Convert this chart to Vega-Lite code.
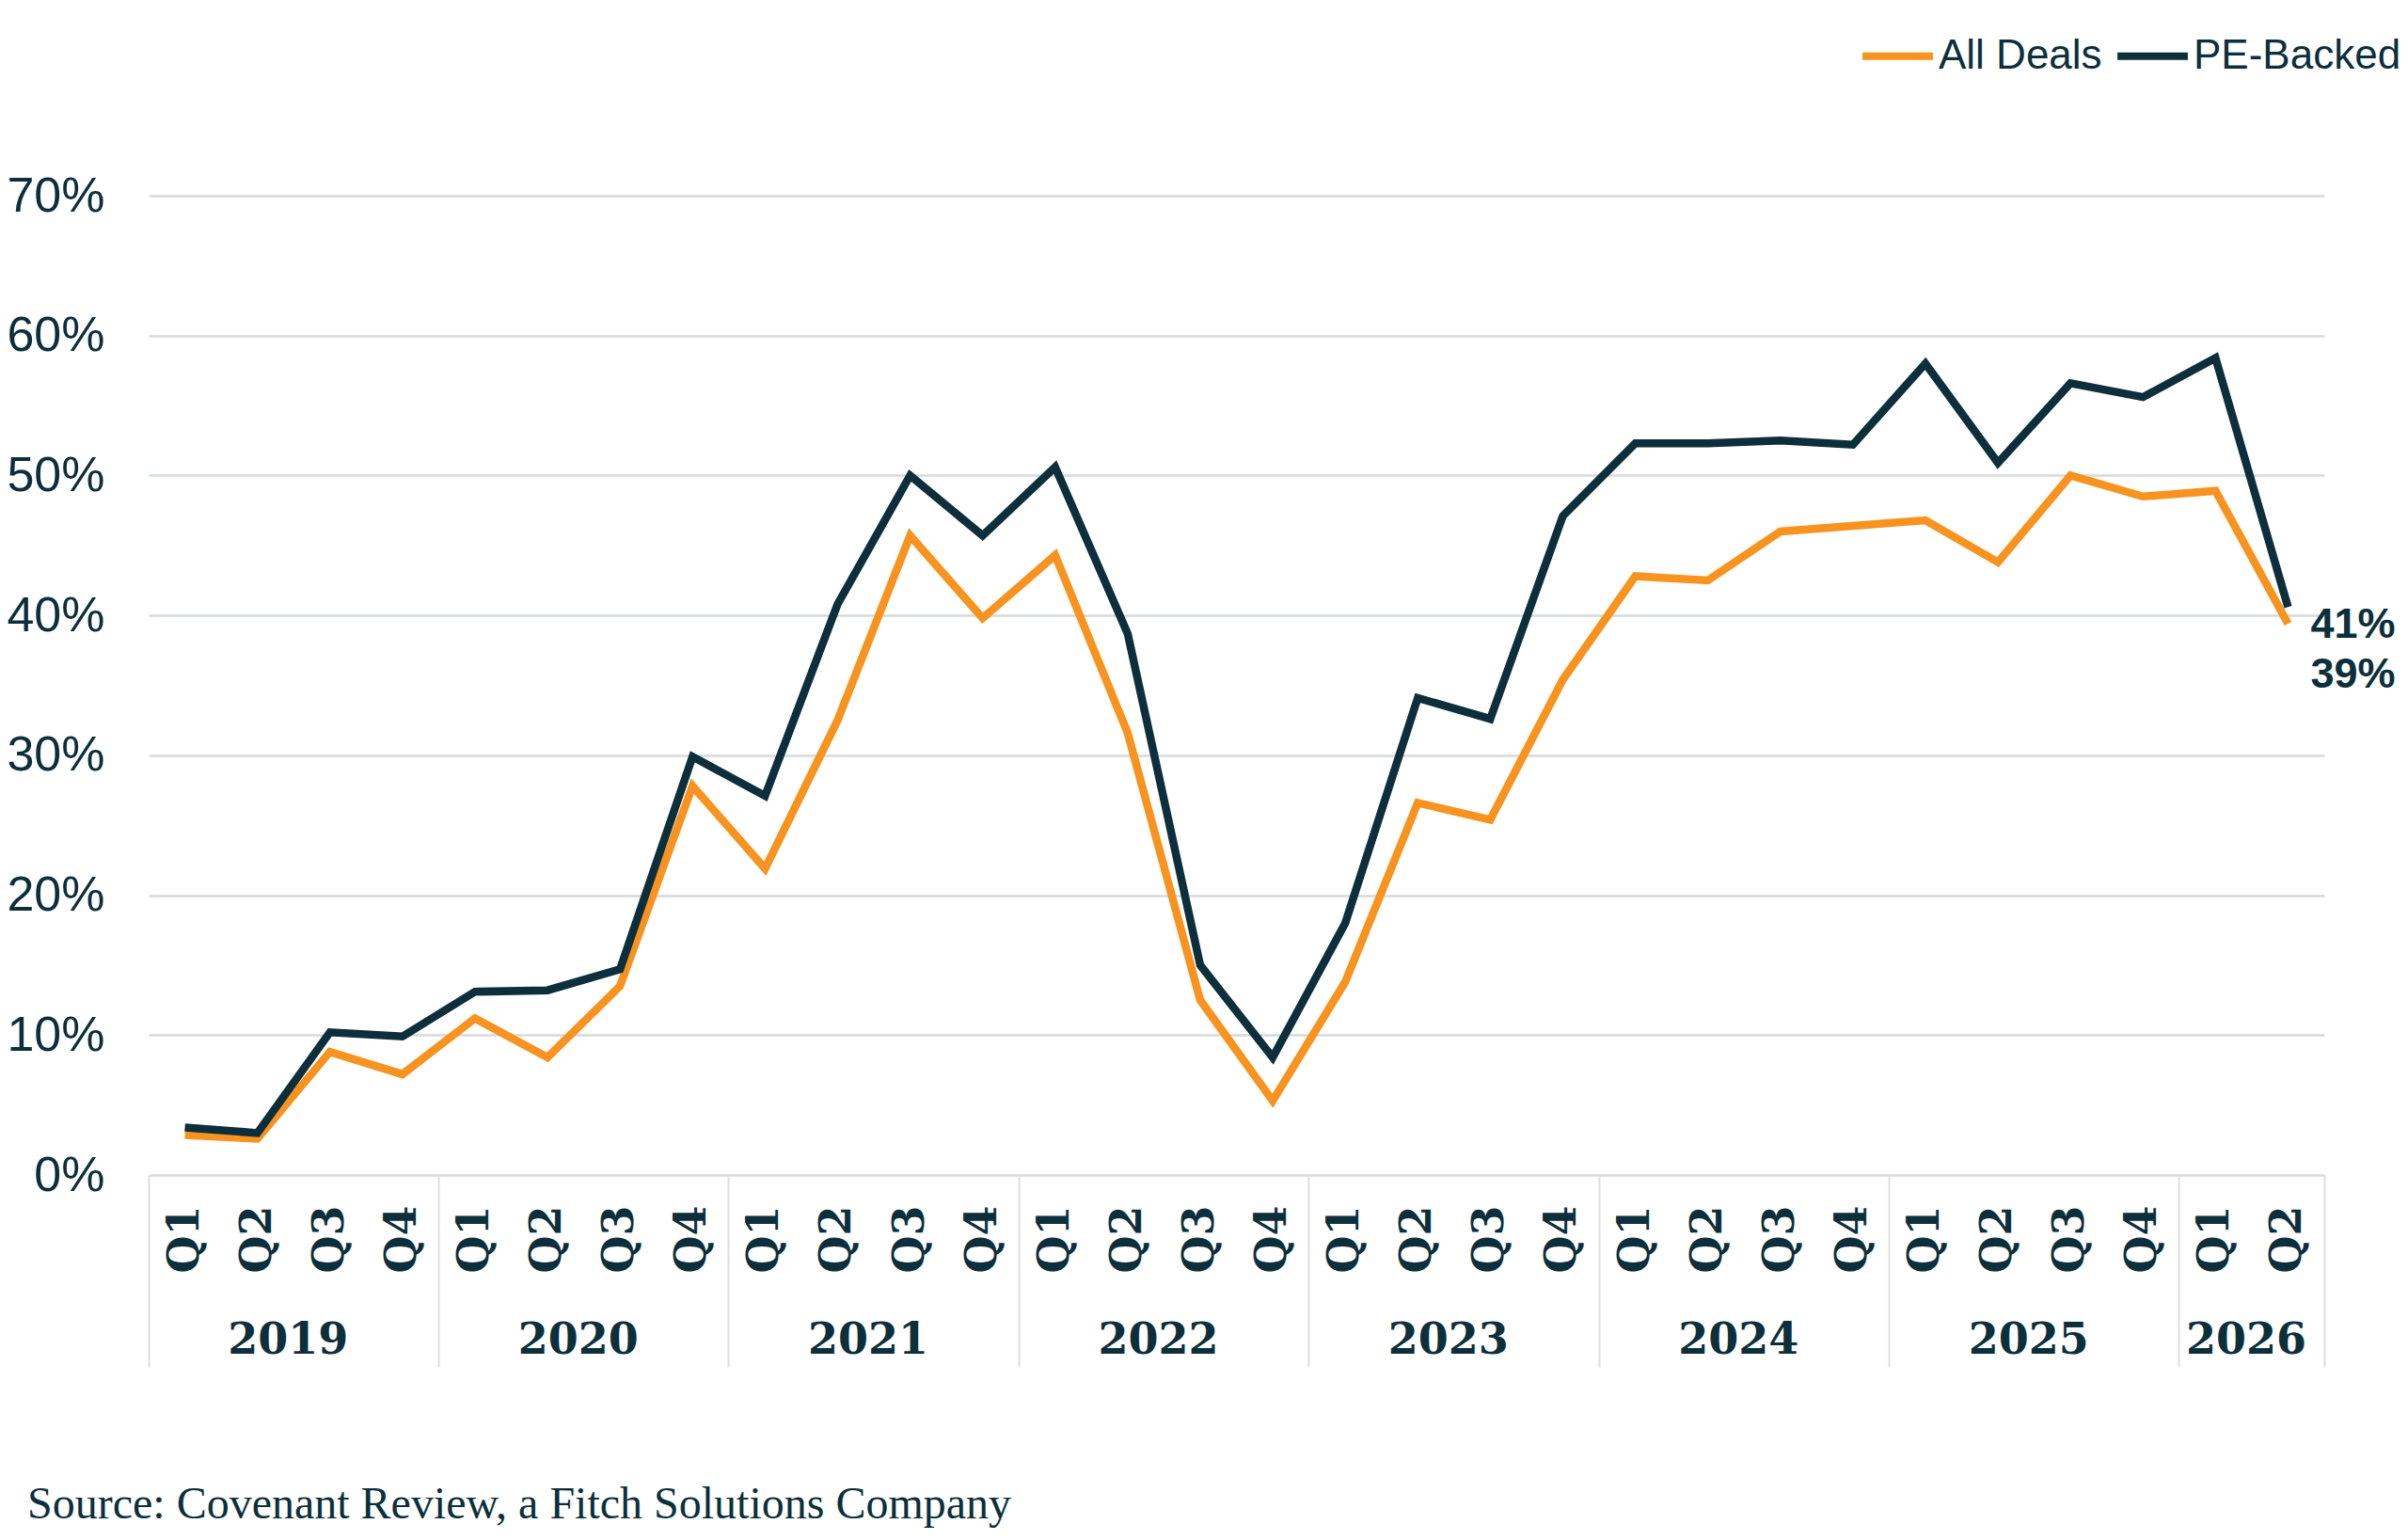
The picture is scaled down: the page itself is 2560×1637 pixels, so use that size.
{
  "$schema": "https://vega.github.io/schema/vega-lite/v6.json",
  "width": 2313,
  "height": 1041,
  "autosize": "none",
  "padding": {"left": 158, "top": 208, "right": 89, "bottom": 388},
  "background": "white",
  "config": {
    "view": {"stroke": "transparent"},
    "axis": {"labelColor": "#0c2f3b", "title": null},
    "legend": {"labelFont": "Liberation Sans", "labelColor": "#0c2f3b"}
  },
  "title": {
    "text": "Source: Covenant Review, a Fitch Solutions Company",
    "orient": "bottom",
    "anchor": "start",
    "frame": "group",
    "dx": -129,
    "offset": 122,
    "font": "Liberation Serif",
    "fontSize": 48,
    "fontWeight": "normal",
    "color": "#0c2f3b"
  },
  "data": {
    "values": [
      {"period": "2019 Q1", "series": "All Deals", "value": 0.0285},
      {"period": "2019 Q2", "series": "All Deals", "value": 0.026},
      {"period": "2019 Q3", "series": "All Deals", "value": 0.088},
      {"period": "2019 Q4", "series": "All Deals", "value": 0.072},
      {"period": "2020 Q1", "series": "All Deals", "value": 0.112},
      {"period": "2020 Q2", "series": "All Deals", "value": 0.084},
      {"period": "2020 Q3", "series": "All Deals", "value": 0.135},
      {"period": "2020 Q4", "series": "All Deals", "value": 0.278},
      {"period": "2021 Q1", "series": "All Deals", "value": 0.219},
      {"period": "2021 Q2", "series": "All Deals", "value": 0.325},
      {"period": "2021 Q3", "series": "All Deals", "value": 0.457},
      {"period": "2021 Q4", "series": "All Deals", "value": 0.398},
      {"period": "2022 Q1", "series": "All Deals", "value": 0.443},
      {"period": "2022 Q2", "series": "All Deals", "value": 0.316},
      {"period": "2022 Q3", "series": "All Deals", "value": 0.125},
      {"period": "2022 Q4", "series": "All Deals", "value": 0.053},
      {"period": "2023 Q1", "series": "All Deals", "value": 0.138},
      {"period": "2023 Q2", "series": "All Deals", "value": 0.266},
      {"period": "2023 Q3", "series": "All Deals", "value": 0.254},
      {"period": "2023 Q4", "series": "All Deals", "value": 0.354},
      {"period": "2024 Q1", "series": "All Deals", "value": 0.428},
      {"period": "2024 Q2", "series": "All Deals", "value": 0.425},
      {"period": "2024 Q3", "series": "All Deals", "value": 0.46},
      {"period": "2024 Q4", "series": "All Deals", "value": 0.464},
      {"period": "2025 Q1", "series": "All Deals", "value": 0.468},
      {"period": "2025 Q2", "series": "All Deals", "value": 0.438},
      {"period": "2025 Q3", "series": "All Deals", "value": 0.5},
      {"period": "2025 Q4", "series": "All Deals", "value": 0.485},
      {"period": "2026 Q1", "series": "All Deals", "value": 0.489},
      {"period": "2026 Q2", "series": "All Deals", "value": 0.394},
      {"period": "2019 Q1", "series": "PE-Backed", "value": 0.034},
      {"period": "2019 Q2", "series": "PE-Backed", "value": 0.03},
      {"period": "2019 Q3", "series": "PE-Backed", "value": 0.102},
      {"period": "2019 Q4", "series": "PE-Backed", "value": 0.099},
      {"period": "2020 Q1", "series": "PE-Backed", "value": 0.131},
      {"period": "2020 Q2", "series": "PE-Backed", "value": 0.132},
      {"period": "2020 Q3", "series": "PE-Backed", "value": 0.147},
      {"period": "2020 Q4", "series": "PE-Backed", "value": 0.299},
      {"period": "2021 Q1", "series": "PE-Backed", "value": 0.271},
      {"period": "2021 Q2", "series": "PE-Backed", "value": 0.408},
      {"period": "2021 Q3", "series": "PE-Backed", "value": 0.5},
      {"period": "2021 Q4", "series": "PE-Backed", "value": 0.457},
      {"period": "2022 Q1", "series": "PE-Backed", "value": 0.506},
      {"period": "2022 Q2", "series": "PE-Backed", "value": 0.387},
      {"period": "2022 Q3", "series": "PE-Backed", "value": 0.15},
      {"period": "2022 Q4", "series": "PE-Backed", "value": 0.084},
      {"period": "2023 Q1", "series": "PE-Backed", "value": 0.18},
      {"period": "2023 Q2", "series": "PE-Backed", "value": 0.341},
      {"period": "2023 Q3", "series": "PE-Backed", "value": 0.326},
      {"period": "2023 Q4", "series": "PE-Backed", "value": 0.471},
      {"period": "2024 Q1", "series": "PE-Backed", "value": 0.523},
      {"period": "2024 Q2", "series": "PE-Backed", "value": 0.523},
      {"period": "2024 Q3", "series": "PE-Backed", "value": 0.525},
      {"period": "2024 Q4", "series": "PE-Backed", "value": 0.522},
      {"period": "2025 Q1", "series": "PE-Backed", "value": 0.58},
      {"period": "2025 Q2", "series": "PE-Backed", "value": 0.509},
      {"period": "2025 Q3", "series": "PE-Backed", "value": 0.566},
      {"period": "2025 Q4", "series": "PE-Backed", "value": 0.556},
      {"period": "2026 Q1", "series": "PE-Backed", "value": 0.584},
      {"period": "2026 Q2", "series": "PE-Backed", "value": 0.406}
    ]
  },
  "encoding": {
    "y": {
      "field": "value",
      "type": "quantitative",
      "scale": {"domain": [0, 0.7], "nice": false, "zero": true},
      "axis": {
        "values": [0, 0.1, 0.2, 0.3, 0.4, 0.5, 0.6, 0.7],
        "format": ".0%",
        "domain": false,
        "ticks": false,
        "grid": true,
        "gridColor": "#d6dadd",
        "gridWidth": 2.5,
        "labelFont": "Liberation Sans",
        "labelFontSize": 52,
        "labelPadding": 47
      }
    }
  },
  "layer": [
    {
      "mark": {"type": "line", "strokeWidth": 8.5},
      "encoding": {
        "x": {
          "field": "period",
          "type": "ordinal",
          "scale": {"type": "band", "paddingInner": 0, "paddingOuter": 0},
          "axis": {
            "orient": "bottom",
            "labelExpr": "substring(datum.label, 5)",
            "labelAngle": -90,
            "labelFont": "DejaVu Serif",
            "labelFontWeight": "bold",
            "labelFontSize": 46,
            "labelPadding": 32,
            "labelOverlap": false,
            "domain": false,
            "grid": false,
            "ticks": false
          }
        },
        "color": {
          "field": "series",
          "type": "nominal",
          "scale": {"domain": ["All Deals", "PE-Backed"], "range": ["#f7931e", "#0c2f3b"]},
          "legend": {
            "orient": "none",
            "direction": "horizontal",
            "legendX": 1818,
            "legendY": -190,
            "title": null,
            "symbolType": "stroke",
            "symbolSize": 5600,
            "symbolStrokeWidth": 8,
            "labelFontSize": 44,
            "labelLimit": 0,
            "labelOffset": 2,
            "columnPadding": 0,
            "padding": 0
          }
        }
      }
    },
    {
      "transform": [{"filter": "datum.period === '2026 Q2' && datum.series === 'PE-Backed'"}],
      "mark": {"type": "text", "align": "left", "baseline": "middle", "dx": 24, "dy": 19, "font": "Liberation Sans", "fontWeight": "bold", "fontSize": 45, "color": "#0c2f3b"},
      "encoding": {
        "x": {
          "field": "period",
          "type": "ordinal",
          "axis": {
            "orient": "bottom",
            "values": ["2019 Q1", "2020 Q1", "2021 Q1", "2022 Q1", "2023 Q1", "2024 Q1", "2025 Q1", "2026 Q1"],
            "bandPosition": 0,
            "labels": false,
            "domain": false,
            "grid": false,
            "ticks": true,
            "tickSize": 204,
            "tickWidth": 2,
            "tickColor": "#dedede"
          }
        },
        "text": {"field": "value", "type": "quantitative", "format": ".0%"}
      }
    },
    {
      "transform": [{"filter": "datum.period === '2026 Q2' && datum.series === 'All Deals'"}],
      "mark": {"type": "text", "align": "left", "baseline": "middle", "dx": 24, "dy": 54, "font": "Liberation Sans", "fontWeight": "bold", "fontSize": 45, "color": "#0c2f3b"},
      "encoding": {
        "x": {
          "field": "period",
          "type": "ordinal",
          "axis": {
            "orient": "bottom",
            "values": ["2019 Q2", "2020 Q2", "2021 Q2", "2022 Q2", "2023 Q2", "2024 Q2", "2025 Q2", "2026 Q1"],
            "labelExpr": "substring(datum.label, 0, 4)",
            "labelOffset": -45,
            "labelAngle": 0,
            "labelBaseline": "middle",
            "labelPadding": -29,
            "labelFont": "DejaVu Serif",
            "labelFontWeight": "bold",
            "labelFontSize": 46,
            "labelOverlap": false,
            "domain": false,
            "grid": false,
            "ticks": true,
            "bandPosition": 1,
            "tickOffset": 77.1,
            "tickSize": 204,
            "tickWidth": 2,
            "tickColor": "#dedede",
            "tickOpacity": {"condition": {"test": "datum.value === '2026 Q1'", "value": 1}, "value": 0}
          }
        },
        "text": {"field": "value", "type": "quantitative", "format": ".0%"}
      }
    }
  ],
  "resolve": {"axis": {"x": "independent"}}
}
